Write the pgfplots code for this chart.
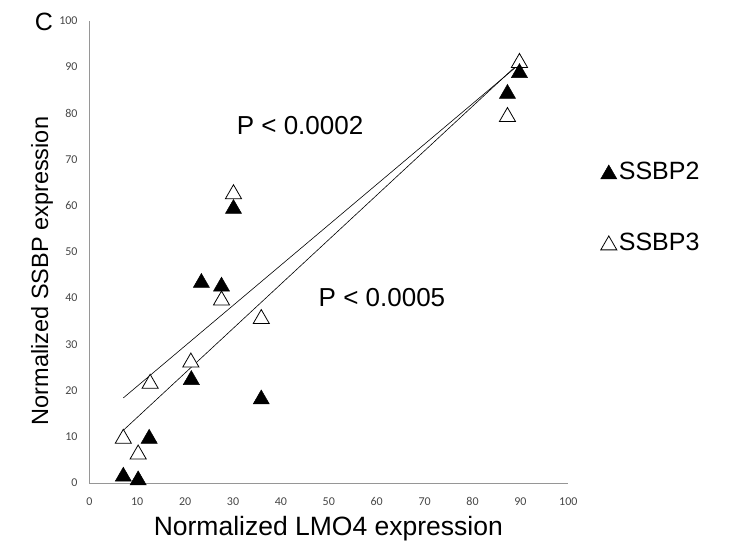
\documentclass[border=0pt]{standalone}
\usepackage{pgfplots}
\pgfplotsset{compat=1.18}
\usepackage{fontspec}
\setmainfont{Liberation Sans}
\newfontfamily\tickfont{Carlito}
\definecolor{axgray}{RGB}{150,150,150}
\definecolor{tickgray}{RGB}{70,70,70}
\begin{document}
\begin{tikzpicture}
\useasboundingbox (-89.3pt,-63pt) rectangle (657.7pt,483pt);
\begin{axis}[
  at={(0pt,0pt)}, anchor=south west,
  scale only axis, width=479pt, height=462.3pt,
  xmin=0, xmax=100, ymin=0, ymax=100,
  clip=false,
  axis x line*=bottom, axis y line*=left,
  axis line style={draw=axgray, line width=0.8pt, -},
  xtick={0,10,...,100}, ytick={0,10,...,100},
  major tick length=0pt,
  /pgf/number format/assume math mode=true,
  tick label style={font=\tickfont\fontsize{12}{14}\selectfont, text=tickgray, inner sep=0pt},
  xticklabel style={anchor=base, yshift=-23pt},
  yticklabel style={anchor=east, xshift=-11.6pt},
  xlabel={Normalized LMO4 expression},
  xlabel style={at={(axis description cs:0.499,-0.0995)}, anchor=center, font=\fontsize{26.5}{30}\selectfont, inner sep=0pt},
  ylabel={Normalized SSBP expression},
  ylabel style={at={(axis description cs:-0.0987,0.4586)}, anchor=center, rotate=0, font=\fontsize{23.5}{27}\selectfont, inner sep=0pt},
  legend style={draw=none, fill=none, at={(axis description cs:1.067,0.596)}, anchor=west, font=\fontsize{25}{29}\selectfont, row sep=48pt, inner sep=0pt},
  legend cell align=left,
  legend image code/.code={\draw[#1] plot coordinates {(8pt,0pt)}; \path (0pt,0pt) (15pt,0pt);},
  reverse legend,
]
\addplot[only marks, mark=triangle*, mark size=9.3pt, mark options={fill=white, draw=black, line width=0.8pt, yshift=-2.3pt}] coordinates {
(7.1,10.1) (10.2,6.7) (12.7,22.0) (21.2,26.6) (27.6,40.0) (30.1,63.0) (35.9,36.0) (87.3,79.7) (89.8,91.4)
};
\addlegendentry{SSBP3}
\addplot[only marks, mark=triangle*, mark size=9.3pt, mark options={fill=black, draw=black, line width=0.5pt, yshift=-2.3pt}] coordinates {
(7.1,1.9) (10.2,1.1) (12.5,10.1) (21.3,22.8) (23.4,43.8) (27.6,43.0) (30.1,59.8) (35.9,18.6) (87.3,84.7) (89.8,89.2)
};
\addlegendentry{SSBP2}
\addplot[forget plot, black, line width=0.6pt] coordinates {(7.1,18.4) (89.8,90.6)};
\addplot[forget plot, black, line width=0.6pt] coordinates {(7.1,11.4) (89.8,90.9)};
\node[font=\fontsize{26}{30}\selectfont] at (axis cs:44,77.3) {P < 0.0002};
\node[font=\fontsize{26}{30}\selectfont] at (axis cs:61.1,40.2) {P < 0.0005};
\node[font=\fontsize{25}{29}\selectfont] at (axis description cs:-0.0946,0.997) {C};
\end{axis}
\end{tikzpicture}
\end{document}
